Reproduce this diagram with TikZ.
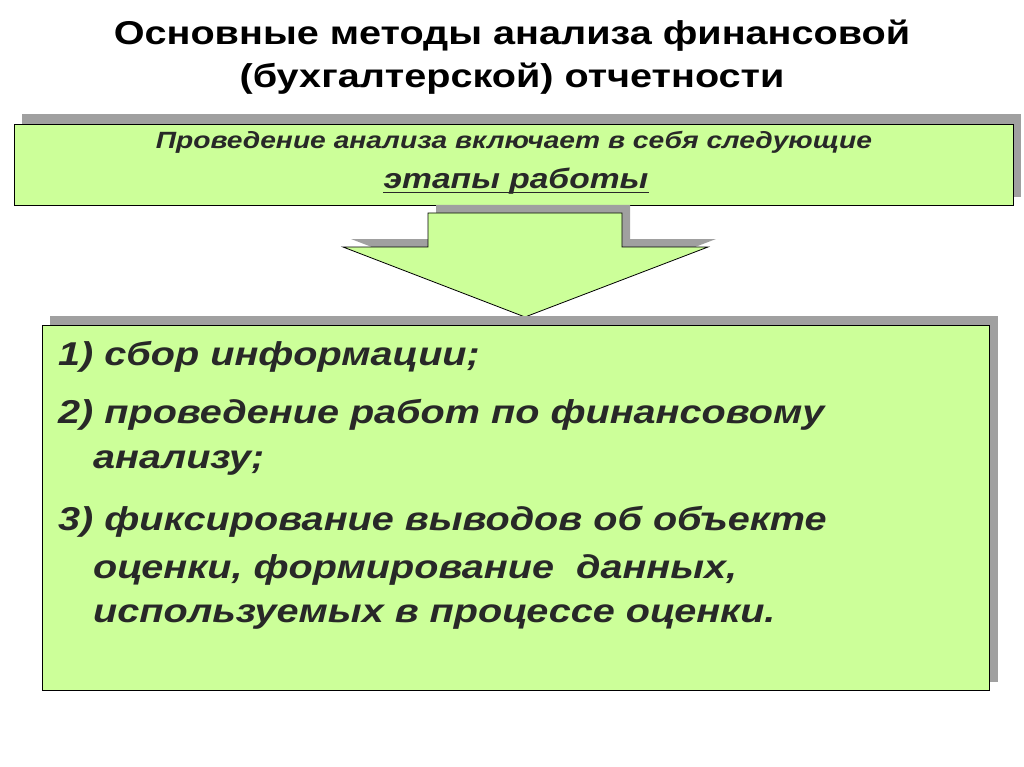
\documentclass[tikz,border=0pt]{standalone}
\usepackage{fontspec}
\setmainfont[FakeStretch=1.2]{Liberation Sans}
\definecolor{lgreen}{RGB}{204,255,153}
\definecolor{shad}{RGB}{160,160,160}
\definecolor{txt}{RGB}{40,40,40}
\begin{document}
\begin{tikzpicture}[x=1pt,y=-1pt,
  box/.style={draw=black,line width=0.8pt,fill=lgreen},
  shadowbox/.style={fill=shad,draw=none},
  itm/.style={anchor=west,font=\fontsize{33}{36}\selectfont\bfseries\itshape,text=txt,inner sep=0}]
\useasboundingbox (0,0) rectangle (1024,767);
\node[font=\fontsize{33}{43}\selectfont\bfseries,align=center,text=black] (title) at (512,57)
  {Основные методы анализа финансовой\\(бухгалтерской) отчетности};
% top box
\fill[shadowbox] (22,114) rectangle (1021,197);
\draw[box] (14,124) rectangle (1013,205);
\node[font=\fontsize{23.5}{26}\selectfont\bfseries\itshape,text=txt] (t1) at (514,142) {Проведение анализа включает в себя следующие};
\node[font=\fontsize{28}{30}\selectfont\bfseries\itshape,text=txt,inner sep=0] (t2) at (516,181) {этапы работы};
\draw[txt,line width=1.5pt] ([yshift=-4pt]t2.base west) -- ([yshift=-4pt]t2.base east);
% arrow
\fill[shadowbox] (436,205) -- (630,205) -- (630,239) -- (716,239) -- (533,309) -- (351,239) -- (436,239) -- cycle;
\draw[box] (428,213) -- (622,213) -- (622,247) -- (708,247) -- (525,317) -- (343,247) -- (428,247) -- cycle;
% big box
\fill[shadowbox] (50,316) rectangle (998,682);
\draw[box] (42,325) rectangle (989,690);
\node[itm] (i1) at (58,357) {1) сбор информации;};
\node[itm] (i2) at (58,415) {2) проведение работ по финансовому};
\node[itm] (i2b) at (93,463) {анализу;};
\node[itm] (i3) at (58,522) {3) фиксирование выводов об объекте};
\node[itm] (i3b) at (93,570) {оценки, формирование\ \ данных,};
\node[itm] (i3c) at (93,617) {используемых в процессе оценки.};
\end{tikzpicture}
\end{document}
